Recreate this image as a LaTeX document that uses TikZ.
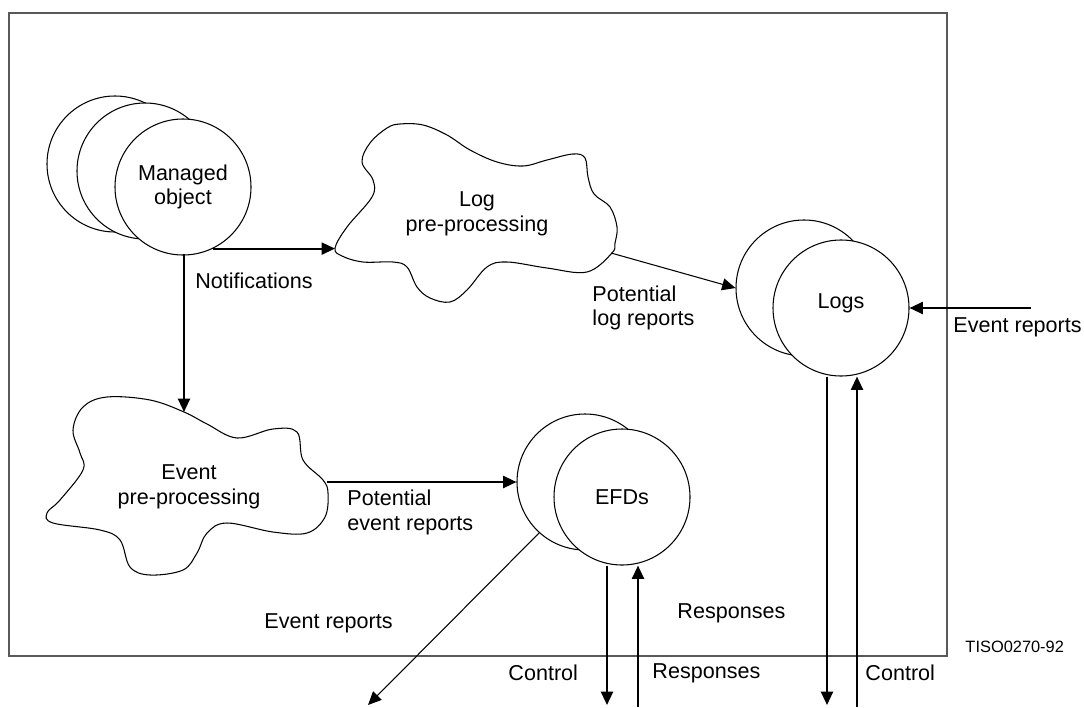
\documentclass[tikz,border=0pt]{standalone}
\usepackage{fontspec}
\setmainfont{Liberation Sans}
\usepackage{tikz}
\usetikzlibrary{calc}
\usetikzlibrary{positioning}
\usetikzlibrary{arrows.meta}

\tikzset{
  obj/.style={circle, draw, line width=0.45pt, fill=white, minimum size=2.04cm, inner sep=0pt, align=center},
  flow/.style={line width=0.9pt, -{Triangle[length=0.2cm,width=0.18cm]}},
  thinflow/.style={line width=0.45pt, -{Triangle[length=0.2cm,width=0.18cm]}},
  lbl/.style={inner sep=0pt, align=left},
  blob/.style={line width=0.45pt, smooth cycle, tension=0.6}
}

\begin{document}
\begin{tikzpicture}[x=0.015cm, y=-0.015cm, font=\fontsize{9.2}{10.6}\selectfont]
				\useasboundingbox (0,0) rectangle (1084,707);
				\draw[black!65, line width=0.6pt] (9,13) rectangle (947,656);
				
				% managed objects
				\node[obj] (MO3) at (115,164) {};
				\node[obj] (MO2) at (145,171) {};
				\node[obj] (MO) at (183,187) {Managed\\object};
				
				% pre-processing clouds
				\draw[blob] plot coordinates {(335,248) (347,227) (372,197) (373,180) (362,162) (370,143) (387,128) (400,124) (423,125) (447,135) (470,150) (497,162) (523,166) (547,160) (573,154) (585,158) (588,177) (594,194) (610,207) (617,227) (615,243) (612,253) (587,272) (547,268) (507,262) (487,267) (467,290) (450,302) (430,298) (417,287) (407,267) (393,262) (363,262) (342,256)};
				\node[lbl, align=center] (LP) at (477,214) {Log\\pre-processing};
				\coordinate (LPin) at (335,248);
				\coordinate (LPout) at (611,253);
				
				\draw[blob] plot coordinates {(184,412) (207,424) (237,438) (273,429) (297,432) (303,460) (323,480) (328,493) (325,517) (307,533) (273,532) (227,523) (207,533) (197,553) (183,570) (150,575) (130,567) (120,540) (100,530) (53,523) (47,513) (60,500) (83,470) (80,453) (73,430) (83,407) (107,397) (150,400)};
				\node[lbl, align=center] (EP) at (189,487) {Event\\pre-processing};
				\coordinate (EPin) at (184,412);
				\coordinate (EPout) at (327,482);
				
				% EFDs and logs
				\node[obj] (EFD2) at (585,482) {};
				\node[obj] (EFD) at (622,497) {EFDs};
				\node[obj] (LOG2) at (804,288) {};
				\node[obj, text depth=0.22cm] (LOG) at (841,308) {Logs};
				
				% free ends
				\coordinate (ERin) at (1031,308);
				\coordinate (ERout) at (368,705);
				\coordinate (EC) at (607,705);
				\coordinate (ES) at (638,707);
				\coordinate (LC) at (827,705);
				\coordinate (LS) at (857,707);
				
				\draw[flow] (MO.-64) -- (MO.-64 -| LPin);
				\draw[flow] (MO.south) -- (MO.south -| EPin) -- (EPin);
				\draw[thinflow] (LPout) -- (LOG2.west);
				\draw[flow] (EPout) -- (EFD2.west);
				\draw[flow] (ERin) -- (LOG.east);
				\draw[thinflow] (EFD2.228) -- (ERout);
				\draw[flow] (EFD.south -| EC) -- (EC);
				\draw[flow] (ES) -- (ES |- EFD.south);
				\draw[flow] (LOG.south -| LC) -- (LC);
				\draw[flow] (LS) -- (LS |- LOG.south);
				
				\node[lbl] (nt) at (254,281) {Notifications};
				\node[lbl, anchor=west] (plr) at (592,308) {Potential\\log reports};
				\node[lbl, anchor=west] (per) at (347,512) {Potential\\event reports};
				\node[lbl, anchor=west] (er1) at (953,327) {Event reports};
				\node[lbl, anchor=west] (er2) at (264,623) {Event reports};
				\node[lbl, anchor=west] (rs1) at (677,613) {Responses};
				\node[lbl, anchor=west] (ct1) at (508,673) {Control};
				\node[lbl, anchor=west] (rs2) at (652,673) {Responses};
				\node[lbl, anchor=west] (ct2) at (865,673) {Control};
				\node[lbl, anchor=west, font=\fontsize{7}{8}\selectfont] (fig) at (965,647) {TISO0270-92};
			\end{tikzpicture}
\end{document}
